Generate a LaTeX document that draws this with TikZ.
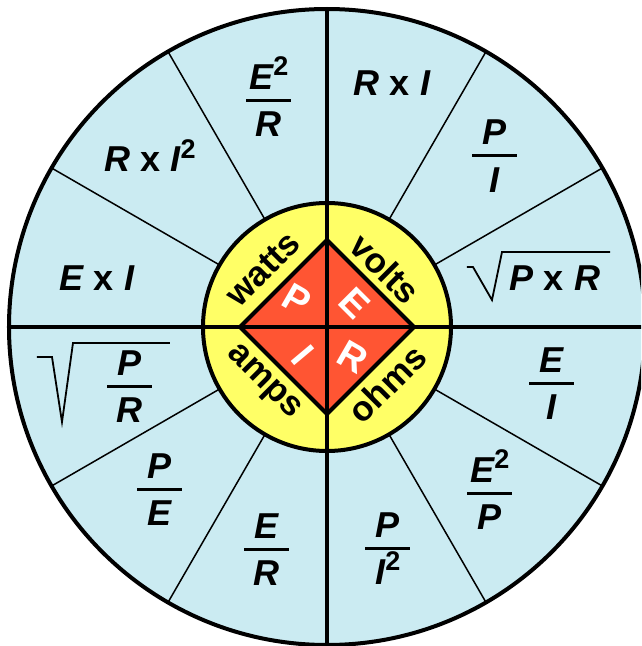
\documentclass[tikz,border=0pt]{standalone}
\usepackage{fontspec}
\setmainfont{Liberation Sans}
\usetikzlibrary{calc}
\definecolor{wheelblue}{HTML}{CBEBF2}
\definecolor{ringyellow}{HTML}{FFFF66}
\definecolor{diamondred}{HTML}{FF5533}
\newcommand\sqr{\raisebox{14pt}{\fontsize{27}{27}\selectfont\upshape 2}}
\newcommand\tms{{\upshape x}}
\newcommand\ohmfrac[4]{%
  \coordinate (#1) at #2;
  \node[formula, anchor=base] (#1-num) at ($(#1)+(0,11)$) {#3};
  \node[formula, anchor=base] (#1-den) at ($(#1)+(0,-36)$) {#4};
  \draw[fracbar] ($(#1)+(-22.5,0)$) -- ($(#1)+(22.5,0)$);
}
\begin{document}
\begin{tikzpicture}[x=1pt,y=1pt,
  formula/.style={font=\fontsize{36}{36}\selectfont\bfseries\itshape, inner sep=0pt},
  ringtext/.style={font=\fontsize{35}{35}\selectfont\bfseries, inner sep=0pt},
  pieletter/.style={font=\fontsize{38}{38}\selectfont\bfseries, text=white, inner sep=0pt},
  fracbar/.style={line width=3pt},
  radical/.style={line width=1.8pt, line join=miter},
  spoke/.style={line width=1.5pt},
  heavy/.style={line width=4pt}]
\useasboundingbox (-327,-319) rectangle (314,327);
\clip (-327,-319) rectangle (314,327);
% wheel
\fill[wheelblue] (0,0) circle (318);
\foreach \a in {30,60,120,150,210,240,300,330}
  \draw[spoke] (\a:124) -- (\a:318);
\draw[heavy, fill=ringyellow] (0,0) circle (124);
\draw[heavy, fill=diamondred, line join=miter] (0,87) -- (87,0) -- (0,-87) -- (-87,0) -- cycle;
\draw[heavy] (0,-318) -- (0,318);
\draw[heavy] (-318,0) -- (318,0);
\draw[heavy] (0,0) circle (318);
% ring words
\node[ringtext, rotate=45]  (watts) at (-64,58)  {watts};
\node[ringtext, rotate=-45] (volts) at (58,58)   {volts};
\node[ringtext, rotate=-45] (amps)  at (-64,-56) {amps};
\node[ringtext, rotate=45]  (ohms)  at (60,-57)  {ohms};
% diamond letters
\node[pieletter, rotate=-30] (lP) at (-30,27)  {P};
\node[pieletter, rotate=-45] (lE) at (28,24)   {E};
\node[pieletter, rotate=-50] (lI) at (-24,-28) {I};
\node[pieletter, rotate=-30] (lR) at (26,-30)  {R};
% formulas
\node[formula, anchor=base] (fRI) at (65,231) {R \tms\ I};
\ohmfrac{fER}{(-58,226)}{E\sqr}{R}
\ohmfrac{fPI}{(168,171)}{P}{I}
\node[formula, anchor=base] (fPR) at (228,37) {P \tms\ R};
\draw[radical] (140,60) -- (146,60) -- (165,27) -- (175,75) -- (283,75);
\ohmfrac{fEI}{(225,-56)}{E}{I}
\ohmfrac{fEP}{(163,-166)}{E\sqr}{P}
\ohmfrac{fPI2}{(61,-221)}{P}{I\sqr}
\ohmfrac{fEoR}{(-60,-222)}{E}{R}
\ohmfrac{fPE}{(-167,-162)}{P}{E}
\ohmfrac{fPoR}{(-197,-59)}{P}{R}
\draw[radical] (-290,-30) -- (-275,-30) -- (-265,-95) -- (-254,-16) -- (-157,-16);
\node[formula, anchor=base] (fEIp) at (-230,37) {E \tms\ I};
\node[formula, anchor=base] (fRI2) at (-177,155) {R \tms\ I\sqr};
\end{tikzpicture}
\end{document}
